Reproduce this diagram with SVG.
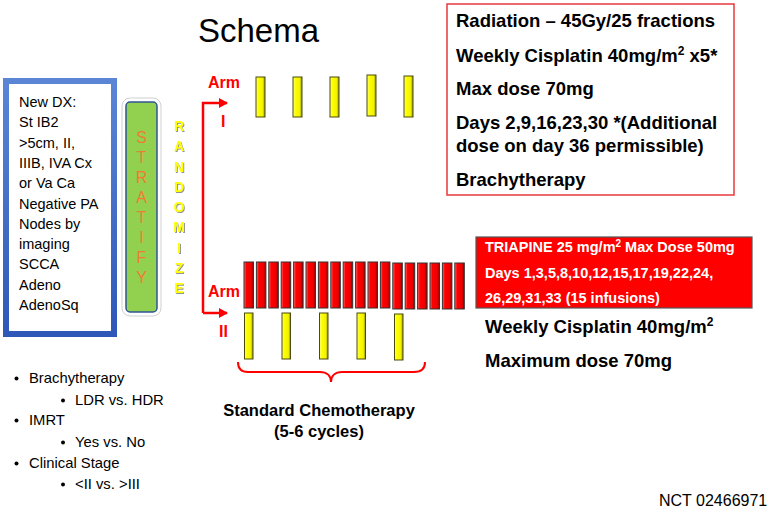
<svg xmlns="http://www.w3.org/2000/svg" width="772" height="511" viewBox="0 0 772 511">
<defs>
<linearGradient id="yg" x1="0" y1="0" x2="1" y2="0">
<stop offset="0" stop-color="#fbfb9a"/><stop offset="0.25" stop-color="#ffff00"/><stop offset="0.75" stop-color="#f2f200"/><stop offset="1" stop-color="#8a8a10"/>
</linearGradient>
<linearGradient id="rg" x1="0" y1="0" x2="1" y2="0">
<stop offset="0" stop-color="#ff7070"/><stop offset="0.25" stop-color="#ff0000"/><stop offset="0.75" stop-color="#ee0000"/><stop offset="1" stop-color="#8a0000"/>
</linearGradient>
<linearGradient id="bb" x1="0" y1="0" x2="0" y2="1">
<stop offset="0" stop-color="#5b86d6"/><stop offset="1" stop-color="#2e58b8"/>
</linearGradient>
<marker id="ah" markerWidth="10" markerHeight="10" refX="8" refY="5" orient="auto" markerUnits="userSpaceOnUse">
<path d="M0,0 L9,5 L0,10 Z" fill="#ff0000"/>
</marker>
<filter id="sh" x="-20%" y="-20%" width="140%" height="140%">
<feDropShadow dx="1" dy="1" stdDeviation="0.6" flood-color="#777" flood-opacity="0.8"/>
</filter>
</defs>
<style>
.t{font-family:"Liberation Sans",Arial,sans-serif;}
.b{font-family:"Liberation Sans",Arial,sans-serif;font-weight:bold;}
.yb{fill:url(#yg);stroke:#4a4a10;stroke-width:1;}
.rb{fill:url(#rg);stroke:#333;stroke-width:1;}
.arm{fill:#ff0000;font-size:16px;}
</style>
<rect width="772" height="511" fill="#ffffff"/>

<g id="title"><text class="t" x="198" y="42" font-size="33" fill="#000">Schema</text></g>

<g id="dx-box">
<rect x="6" y="81" width="108" height="253" fill="#ffffff" stroke="url(#bb)" stroke-width="6"/>
<text class="t" font-size="14.5" fill="#000">
<tspan x="19" y="107">New DX:</tspan>
<tspan x="19" y="127.3">St IB2</tspan>
<tspan x="19" y="147.6">&gt;5cm, II,</tspan>
<tspan x="19" y="167.9">IIIB, IVA Cx</tspan>
<tspan x="19" y="188.2">or Va Ca</tspan>
<tspan x="19" y="208.5">Negative PA</tspan>
<tspan x="19" y="228.8">Nodes by</tspan>
<tspan x="19" y="249.1">imaging</tspan>
<tspan x="19" y="269.4">SCCA</tspan>
<tspan x="19" y="289.7">Adeno</tspan>
<tspan x="19" y="310">AdenoSq</tspan>
</text>
</g>

<g id="stratify">
<rect x="122" y="98" width="39" height="218" rx="8" fill="#ffffff" stroke="#d0d0d0" stroke-width="1"/>
<rect x="126" y="102" width="31" height="210" rx="4" fill="#92d050" stroke="#2f5597" stroke-width="1.5"/>
<g class="t" font-size="16" fill="#f07c30" text-anchor="middle">
<text x="141.5" y="143">S</text><text x="141.5" y="163">T</text><text x="141.5" y="183">R</text><text x="141.5" y="203">A</text><text x="141.5" y="223">T</text><text x="141.5" y="243">I</text><text x="141.5" y="263">F</text><text x="141.5" y="283">Y</text>
</g>
</g>

<g id="randomize" filter="url(#sh)">
<g class="b" font-size="14" fill="#ffff00" text-anchor="middle">
<text x="179" y="131">R</text><text x="179" y="151.25">A</text><text x="179" y="171.5">N</text><text x="179" y="191.75">D</text><text x="179" y="212">O</text><text x="179" y="232.25">M</text><text x="179" y="252.5">I</text><text x="179" y="272.75">Z</text><text x="179" y="293">E</text>
</g>
</g>

<g id="connectors" fill="none" stroke="#ff0000" stroke-width="2.5">
<path d="M203,313 V103 H227" marker-end="url(#ah)"/>
<path d="M203,313 H227" marker-end="url(#ah)"/>
<path d="M238,362 C238,369 241,372 248,372 L320,372 C327,372 331,376 331,382 C331,376 335,372 342,372 L414,372 C421,372 425,369 425,362" stroke-width="2"/>
</g>

<g id="arm1-label" class="b arm">
<text x="208" y="88">Arm</text>
<text x="221" y="127">I</text>
</g>

<g id="arm1-bars">
<rect class="yb" x="256" y="77" width="9" height="40"/>
<rect class="yb" x="293" y="77" width="9" height="40"/>
<rect class="yb" x="330" y="77" width="9" height="40"/>
<rect class="yb" x="367" y="75" width="9" height="41"/>
<rect class="yb" x="404" y="76" width="9" height="41"/>
</g>

<g id="arm2-label" class="b arm">
<text x="208" y="297">Arm</text>
<text x="219" y="337">II</text>
</g>

<g id="arm2-red-bars">
<rect class="rb" x="244" y="262" width="9.5" height="46"/>
<rect class="rb" x="256.4" y="262" width="9.5" height="46"/>
<rect class="rb" x="268.8" y="262" width="9.5" height="46"/>
<rect class="rb" x="281.2" y="262" width="9.5" height="46"/>
<rect class="rb" x="293.6" y="262" width="9.5" height="46"/>
<rect class="rb" x="306" y="262" width="9.5" height="46"/>
<rect class="rb" x="318.4" y="262" width="9.5" height="46"/>
<rect class="rb" x="330.8" y="262" width="9.5" height="46"/>
<rect class="rb" x="343.2" y="262" width="9.5" height="46"/>
<rect class="rb" x="355.6" y="262" width="9.5" height="46"/>
<rect class="rb" x="368" y="262" width="9.5" height="46"/>
<rect class="rb" x="380.4" y="262" width="9.5" height="46"/>
<rect class="rb" x="392.8" y="263" width="9.5" height="46"/>
<rect class="rb" x="405.2" y="263" width="9.5" height="46"/>
<rect class="rb" x="417.6" y="263" width="9.5" height="46"/>
<rect class="rb" x="430" y="263" width="9.5" height="46"/>
<rect class="rb" x="442.4" y="263" width="9.5" height="46"/>
<rect class="rb" x="454.8" y="263" width="9.5" height="46"/>
</g>

<g id="arm2-yellow-bars">
<rect class="yb" x="244.5" y="313" width="8.5" height="46"/>
<rect class="yb" x="282" y="313" width="8.5" height="46"/>
<rect class="yb" x="319.5" y="313" width="8.5" height="46"/>
<rect class="yb" x="357" y="313" width="8.5" height="46"/>
<rect class="yb" x="394.5" y="314" width="8.5" height="46"/>
</g>

<g id="std-chemo">
<text class="b" font-size="16.5" fill="#000" text-anchor="middle"><tspan x="319" y="416">Standard Chemotherapy</tspan><tspan x="319" y="437">(5-6 cycles)</tspan></text>
</g>

<g id="arm1-box">
<rect x="447" y="4" width="287" height="191" fill="#ffffff" stroke="#e8383c" stroke-width="1.5"/>
<text class="b" font-size="18.5" fill="#000">
<tspan x="456" y="27">Radiation – 45Gy/25 fractions</tspan>
<tspan x="456" y="62">Weekly Cisplatin 40mg/m</tspan><tspan font-size="12" dy="-7">2</tspan><tspan dy="7"> x5*</tspan>
<tspan x="456" y="95">Max dose 70mg</tspan>
<tspan x="456" y="129">Days 2,9,16,23,30 *(Additional</tspan>
<tspan x="456" y="152">dose on day 36 permissible)</tspan>
<tspan x="456" y="186">Brachytherapy</tspan>
</text>
</g>

<g id="triapine-box">
<rect x="476" y="237" width="276" height="71" fill="#ff0000" stroke="#555" stroke-width="1.2"/>
<text class="b" font-size="14.5" fill="#ffffff">
<tspan x="485" y="252">TRIAPINE 25 mg/m</tspan><tspan font-size="10" dy="-5">2</tspan><tspan dy="5"> Max Dose 50mg</tspan>
<tspan x="485" y="278">Days 1,3,5,8,10,12,15,17,19,22,24,</tspan>
<tspan x="485" y="303">26,29,31,33 (15 infusions)</tspan>
</text>
</g>

<g id="arm2-text">
<text class="b" font-size="18.5" fill="#000">
<tspan x="485" y="333">Weekly Cisplatin 40mg/m</tspan><tspan font-size="12" dy="-7">2</tspan>
<tspan x="485" y="367">Maximum dose 70mg</tspan>
</text>
</g>

<g id="strat-factors" class="t" font-size="14.8" fill="#000">
<text x="29" y="383">Brachytherapy</text>
<text x="75" y="405">LDR vs. HDR</text>
<text x="29" y="425">IMRT</text>
<text x="75" y="447">Yes vs. No</text>
<text x="29" y="468">Clinical Stage</text>
<text x="75" y="489">&lt;II vs. &gt;III</text>
<g fill="#000">
<circle cx="16.5" cy="378.5" r="2"/>
<circle cx="63" cy="400.5" r="2"/>
<circle cx="16.5" cy="420.5" r="2"/>
<circle cx="63" cy="442.5" r="2"/>
<circle cx="16.5" cy="463.5" r="2"/>
<circle cx="63" cy="484.5" r="2"/>
</g>
</g>

<g id="nct"><text class="t" x="659" y="506" font-size="16" fill="#000">NCT 02466971</text></g>
</svg>
